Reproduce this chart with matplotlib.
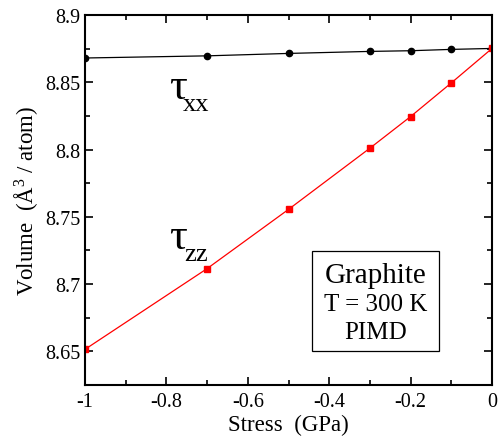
import matplotlib
matplotlib.use("Agg")
import matplotlib.pyplot as plt
from matplotlib.ticker import MultipleLocator, FuncFormatter
from matplotlib.patches import Rectangle

plt.rcParams['font.family'] = ['Liberation Serif', 'DejaVu Serif']
plt.rcParams['axes.unicode_minus'] = False
plt.rcParams['mathtext.fontset'] = 'custom'
plt.rcParams['mathtext.rm'] = 'Liberation Serif'
plt.rcParams['mathtext.default'] = 'regular'

stress_xx = [-1.0, -0.7, -0.5, -0.3, -0.2, -0.1, 0.0]
vol_xx = [8.868, 8.8696, 8.8714, 8.8729, 8.8734, 8.8744, 8.8751]
stress_zz = [-1.0, -0.7, -0.5, -0.3, -0.2, -0.1, 0.0]
vol_zz = [8.6515, 8.7115, 8.7555, 8.8010, 8.8245, 8.8495, 8.8751]

fig = plt.figure(figsize=(4.98, 4.39), dpi=100)
ax = fig.add_axes([0.1707, 0.1207, 0.8173, 0.843])

ax.plot(stress_xx, vol_xx, color="k", lw=0.9, marker="o", ms=4.5)
ax.plot(stress_zz, vol_zz, color="r", lw=0.9, marker="s", ms=4, mec="r")

ax.set_xlim(-1, 0)
ax.set_ylim(8.625, 8.9)
ax.xaxis.set_major_locator(MultipleLocator(0.2))
ax.xaxis.set_minor_locator(MultipleLocator(0.1))
ax.yaxis.set_major_locator(MultipleLocator(0.05))
ax.yaxis.set_minor_locator(MultipleLocator(0.025))
fmt = FuncFormatter(lambda v, p: "%g" % round(v, 3))
ax.xaxis.set_major_formatter(fmt)
ax.yaxis.set_major_formatter(fmt)
ax.tick_params(which="both", direction="in", top=True, right=True, width=1.2, labelsize=14.5)
ax.tick_params(which="major", length=6)
ax.tick_params(axis="x", which="major", pad=5)
ax.tick_params(axis="y", which="major", pad=3)
ax.tick_params(which="minor", length=3.5)
for s in ax.spines.values():
    s.set_linewidth(1.5)

ax.set_xlabel("Stress  (GPa)", fontsize=16.5, labelpad=2)
ax.set_ylabel("Volume  (Å$^{3}$ / atom)", fontsize=16.5, labelpad=4)

# tau labels
ax.text(-0.772, 8.838, "τ", fontsize=32, ha="center", va="baseline")
ax.text(-0.727, 8.829, "xx", fontsize=19, ha="center", va="baseline")
ax.text(-0.772, 8.727, "τ", fontsize=32, ha="center", va="baseline")
ax.text(-0.727, 8.718, "zz", fontsize=19, ha="center", va="baseline")

# info box
ax.add_patch(Rectangle((0.558, 0.092), 0.312, 0.27, transform=ax.transAxes,
                       fill=False, ec="k", lw=0.9))
ax.text(0.714, 0.297, "Graphite", transform=ax.transAxes, fontsize=21, ha="center", va="center")
ax.text(0.714, 0.219, "T = 300 K", transform=ax.transAxes, fontsize=18, ha="center", va="center")
ax.text(0.714, 0.143, "PIMD", transform=ax.transAxes, fontsize=18, ha="center", va="center")

fig.savefig("out.png", dpi=100)
